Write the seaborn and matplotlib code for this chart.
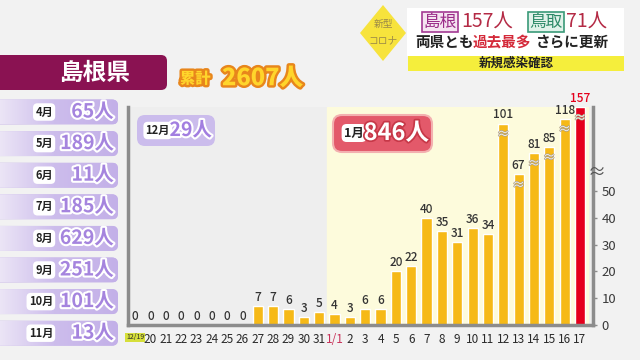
import numpy as np
import pandas as pd
import matplotlib
matplotlib.use('Agg')
import matplotlib.pyplot as plt
import matplotlib.patheffects as pe
from matplotlib.patches import FancyBboxPatch, Polygon
from matplotlib.colors import LinearSegmentedColormap
import seaborn as sns

# daily new cases, Shimane (12/19 - 1/17)
dates = ['12/19', '20', '21', '22', '23', '24', '25', '26', '27', '28', '29', '30', '31',
         '1/1', '2', '3', '4', '5', '6', '7', '8', '9', '10', '11', '12', '13', '14', '15', '16', '17']
cases = [0, 0, 0, 0, 0, 0, 0, 0, 7, 7, 6, 3, 5,
         4, 3, 6, 6, 20, 22, 40, 35, 31, 36, 34, 101, 67, 81, 85, 118, 157]

# monthly totals
months = ['4月', '5月', '6月', '7月', '8月', '9月', '10月', '11月']
month_totals = [65, 189, 11, 185, 629, 251, 101, 13]
dec_total = 29
jan_total = 846
cumulative = 2607
shimane_today = 157
tottori_today = 71
right_ticks = [0, 10, 20, 30, 40, 50]

# broken axis: values above 50 are squeezed
brk_in = [-1000, 0, 50, 65, 100, 160, 1000]
brk_out = [-1000, 0, 50, 55, 75, 81.5, 172]


def fwd(v):
    return np.interp(np.asarray(v, dtype=float), brk_in, brk_out)


def inv(d):
    return np.interp(np.asarray(d, dtype=float), brk_out, brk_in)


sns.set_theme(style='white')
plt.rcParams['font.family'] = ['Noto Sans CJK JP', 'DejaVu Sans']

fig = plt.figure(figsize=(6.4, 3.6), dpi=100, facecolor='#f2f2f2')
ax = fig.add_axes([128 / 640, 35 / 360, 465 / 640, 218 / 360])

df = pd.DataFrame({'date': dates, 'cases': cases})
colors = ['#e5001c' if d == dates[-1] else '#f6b917' for d in dates]
sns.barplot(data=df, x='date', y='cases', hue='date', order=dates, hue_order=dates,
            palette=colors, legend=False, width=0.66, saturation=1, ax=ax)

ax.set_yscale('function', functions=(fwd, inv))
ax.set_ylim(0, 158)
ax.set_xlim(-0.46, 29.85)
ax.set_facecolor('#eeeeee')
ax.axvspan(12.5, 29.5, color='#fdfbdc', zorder=0)
ax.set_xlabel('')
ax.set_ylabel('')

for i, v in enumerate(cases):
    last = i == len(cases) - 1
    ax.annotate(str(v), (i, v), xytext=(0, 1.5), textcoords='offset points',
                ha='center', va='bottom', fontsize=8.5, fontweight='medium',
                color='#e5001c' if last else '#333333', annotation_clip=False)
    if v > 60:
        ax.annotate('≈', (i, v), xytext=(0, -8), textcoords='offset points',
                    ha='center', va='center', fontsize=9, color='#f3f3f3',
                    path_effects=[pe.withStroke(linewidth=1, foreground='#b0a080')])

ax.annotate('≈', (1, inv(56.5)), xycoords=('axes fraction', 'data'), xytext=(3, 0),
            textcoords='offset points', ha='center', va='center', fontsize=13,
            color='#555555', annotation_clip=False)

for s in ['left', 'bottom', 'right']:
    ax.spines[s].set_color('#8c8c8c')
    ax.spines[s].set_linewidth(2.5)
ax.spines['top'].set_visible(False)

ax.yaxis.tick_right()
ax.set_yticks(right_ticks)
ax.set_yticklabels([str(t) for t in right_ticks])
ax.tick_params(axis='y', length=3, width=1, color='#8c8c8c', pad=3,
               labelsize=9.5, labelcolor='#3a3a3a')
ax.tick_params(axis='x', length=0, pad=6, labelsize=8.5, labelcolor='#2a2a2a')
for lab in ax.get_xticklabels():
    if lab.get_text() == '12/19':
        lab.set_fontsize(5)
        lab.set_bbox(dict(boxstyle='square,pad=0.1', fc='#d6df3a', ec='none'))
    elif lab.get_text() == '1/1':
        lab.set_color('#c8325a')

# overlay in pixel coordinates for the panels
ov = fig.add_axes([0, 0, 1, 1])
ov.set_facecolor('none')
ov.axis('off')


def rbox(x0, y0, x1, y1, fc, ec='none', r=6, lw=0):
    p = FancyBboxPatch((x0, y0), x1 - x0, y1 - y0,
                       boxstyle=f'round,pad=0,rounding_size={r}',
                       fc=fc, ec=ec, lw=lw)
    ov.add_patch(p)
    return p


lav = LinearSegmentedColormap.from_list('lav', ['#f1ecf8', '#cdbdec', '#c3b0e8'])
grad = np.linspace(0, 1, 120).reshape(1, -1)
white_edge = [pe.withStroke(linewidth=3, foreground='white')]

# monthly boxes on the left
for i, (m, t) in enumerate(zip(months, month_totals)):
    yc = 112 + 31.6 * i
    p = rbox(-10, yc - 12.5, 118, yc + 12.5, fc='#c9b8ea')
    im = ov.imshow(grad, extent=[-10, 118, yc + 12.5, yc - 12.5], cmap=lav,
                   aspect='auto', zorder=2)
    im.set_clip_path(p)
    ov.text(53, yc, m, ha='right', va='center', fontsize=8, fontweight='bold',
            color='#222222', zorder=3,
            bbox=dict(boxstyle='round,pad=0.2,rounding_size=0.4', fc='white', ec='none'))
    ov.text(114, yc, f'{t}人', ha='right', va='center', fontsize=14, fontweight='bold',
            color='#a584de', path_effects=white_edge, zorder=3)

# December / January totals
rbox(137, 115, 215, 146, fc='#cbbcec', r=8)
ov.text(170, 130.5, '12月', ha='right', va='center', fontsize=8, fontweight='bold',
        color='#222222', bbox=dict(boxstyle='round,pad=0.2,rounding_size=0.4', fc='white', ec='none'))
ov.text(212, 130.5, f'{dec_total}人', ha='right', va='center', fontsize=14, fontweight='bold',
        color='#a27ee0', path_effects=white_edge)

rbox(333, 115, 432, 152, fc='#e3596a', ec='#f3b0b0', r=9, lw=1.5)
ov.text(364, 133, '1月', ha='right', va='center', fontsize=9, fontweight='bold',
        color='#222222', bbox=dict(boxstyle='round,pad=0.2,rounding_size=0.4', fc='white', ec='none'))
ov.text(429, 133, f'{jan_total}人', ha='right', va='center', fontsize=17, fontweight='bold',
        color='white', path_effects=[pe.withStroke(linewidth=2.5, foreground='#c73848')])

# prefecture header
rbox(-10, 55, 167, 90, fc='#8a1252', r=6)
ov.text(95, 72.5, '島根県', ha='center', va='center', fontsize=17, fontweight='bold', color='white')
orange_edge = [pe.withStroke(linewidth=3.5, foreground='#e8861c')]
ov.text(180, 79, '累計', ha='left', va='center', fontsize=11, fontweight='heavy',
        color='#ffd52b', path_effects=orange_edge)
ov.text(222, 78, f'{cumulative}人', ha='left', va='center', fontsize=17, fontweight='heavy',
        color='#ffd52b', path_effects=orange_edge)

# top right caption
ov.add_patch(Polygon([(383, 5), (406, 33), (383, 61), (360, 33)], closed=True, fc='#f7e33c', ec='none'))
ov.text(383, 24, '新型', ha='center', va='center', fontsize=7, color='#9c8a48')
ov.text(383, 40, 'コロナ', ha='center', va='center', fontsize=7, color='#9c8a48')
ov.add_patch(Polygon([(407, 8), (624, 8), (624, 56), (407, 56)], closed=True, fc='white', ec='none'))
ov.add_patch(Polygon([(408, 56), (624, 56), (624, 71), (408, 71)], closed=True, fc='#f5ee3c', ec='none'))
ov.text(516, 63.5, '新規感染確認', ha='center', va='center', fontsize=9, fontweight='bold', color='#222222')

ov.text(440, 22, '島根', ha='center', va='center', fontsize=12, color='#9a2a88',
        bbox=dict(boxstyle='square,pad=0.08', fc='#f5e4f1', ec='#a33a93', lw=1.2))
ov.text(461, 22, f'{shimane_today}人', ha='left', va='center', fontsize=14, color='#b42a45')
ov.text(546, 22, '鳥取', ha='center', va='center', fontsize=12, color='#2d8a68',
        bbox=dict(boxstyle='square,pad=0.08', fc='#e1f2ea', ec='#3a9a78', lw=1.2))
ov.text(566, 22, f'{tottori_today}人', ha='left', va='center', fontsize=14, color='#b42a45')

ov.text(415, 42, '両県とも', ha='left', va='center', fontsize=10.5, fontweight='bold', color='#222222')
ov.text(473, 42, '過去最多', ha='left', va='center', fontsize=10.5, fontweight='bold', color='#d42a3a')
ov.text(536, 42, 'さらに更新', ha='left', va='center', fontsize=10.5, fontweight='bold', color='#222222')

ov.set_xlim(0, 640)
ov.set_ylim(360, 0)

fig.savefig('out.png', dpi=100, facecolor=fig.get_facecolor())
plt.close(fig)
